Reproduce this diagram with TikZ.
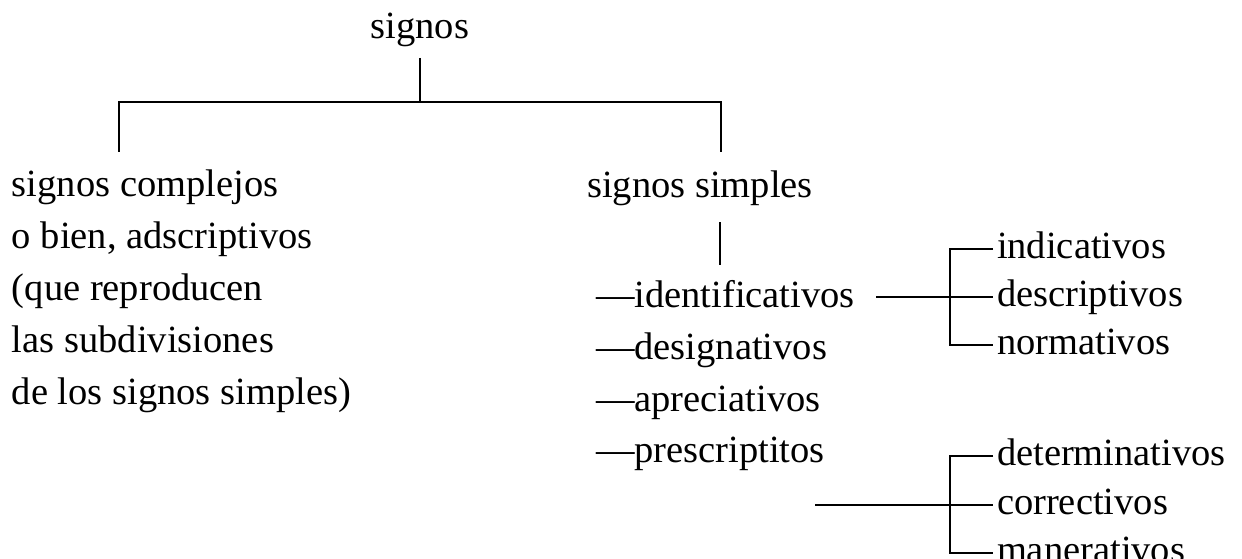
\documentclass[tikz,border=0pt]{standalone}
\usepackage{fontspec}
\setmainfont{Liberation Serif}
\begin{document}
\begin{tikzpicture}[x=1pt,y=-1pt,
  lbl/.style={inner sep=0pt,outer sep=0pt,font=\fontsize{38.5}{44}\selectfont},
  ln/.style={line width=1.6pt}]
\useasboundingbox (0,0) rectangle (1242,559);
% top
\node[lbl,anchor=base] (signos) at (420,39) {signos};
\coordinate (topv) at (420,58);
\coordinate (topj) at (420,102);
\coordinate (lj) at (119,102);
\coordinate (rj) at (721,102);
\coordinate (ld) at (119,152);
\coordinate (rd) at (721,152);
\draw[ln] (topv) -- (topj);
\draw[ln] (ld) -- (lj) -- (rj) -- (rd);
% left block
\node[lbl,anchor=base west] (c1) at (12,196) {signos complejos};
\node[lbl,anchor=base west] (c2) at (12,248) {o bien, adscriptivos};
\node[lbl,anchor=base west] (c3) at (12,300) {(que reproducen};
\node[lbl,anchor=base west] (c4) at (12,352) {las subdivisiones};
\node[lbl,anchor=base west] (c5) at (12,404) {de los signos simples)};
% right
\node[lbl,anchor=base] (simples) at (700,197) {signos simples};
\coordinate (sv1) at (720,222);
\coordinate (sv2) at (720,265);
\draw[ln] (sv1) -- (sv2);
\node[lbl,anchor=base west] (ident) at (596,307) {—identificativos};
\node[lbl,anchor=base west] (desig) at (596,359) {—designativos};
\node[lbl,anchor=base west] (apre) at (596,411) {—apreciativos};
\node[lbl,anchor=base west] (pres) at (596,462) {—prescriptitos};
% bracket 1
\node[lbl,anchor=base west] (indic) at (997,258) {indicativos};
\node[lbl,anchor=base west] (descr) at (997,306) {descriptivos};
\node[lbl,anchor=base west] (norm) at (997,354) {normativos};
\coordinate (b1) at (950,297);
\coordinate (b1s) at (876,297);
\coordinate (b1t) at (950,249);
\coordinate (b1b) at (950,345);
\coordinate (t1a) at (993,249);
\coordinate (t1b) at (993,297);
\coordinate (t1c) at (993,345);
\draw[ln] (b1s) -- (b1);
\draw[ln] (t1a) -- (b1t) -- (b1b) -- (t1c);
\draw[ln] (b1) -- (t1b);
% bracket 2
\node[lbl,anchor=base west] (deter) at (997,465) {determinativos};
\node[lbl,anchor=base west] (corr) at (997,514) {correctivos};
\node[lbl,anchor=base west] (maner) at (997,562) {manerativos};
\coordinate (b2) at (950,505);
\coordinate (b2s) at (815,505);
\coordinate (b2t) at (950,456);
\coordinate (b2b) at (950,553);
\coordinate (t2a) at (993,456);
\coordinate (t2b) at (993,505);
\coordinate (t2c) at (993,553);
\draw[ln] (b2s) -- (b2);
\draw[ln] (t2a) -- (b2t) -- (b2b) -- (t2c);
\draw[ln] (b2) -- (t2b);
\end{tikzpicture}
\end{document}
